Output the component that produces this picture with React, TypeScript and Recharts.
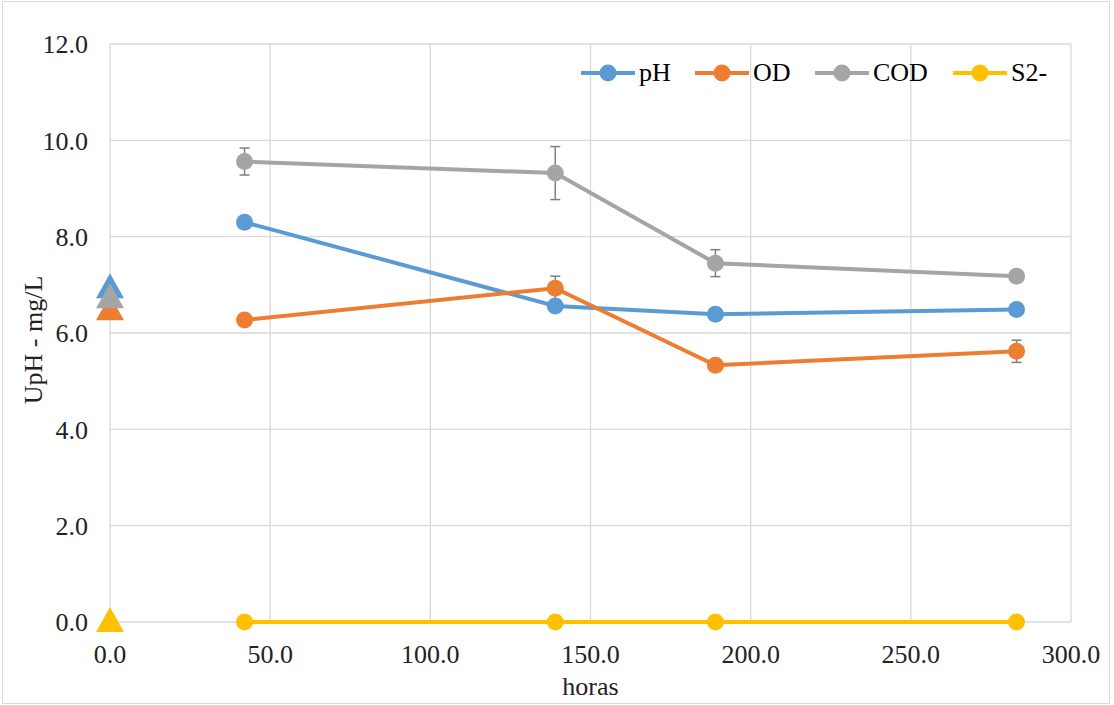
import {
  CartesianGrid,
  ComposedChart,
  ErrorBar,
  Line,
  Scatter,
  XAxis,
  YAxis,
} from "recharts"

const hours = [42, 139, 189, 283]
const pH = [8.3, 6.56, 6.39, 6.49]
const od = [6.27, 6.93, 5.33, 5.62]
const cod = [9.56, 9.32, 7.45, 7.18]
const s2 = [0, 0, 0, 0]
const odErr = [0.1, 0.25, 0, 0.23]
const codErr = [0.28, 0.55, 0.28, 0]

// initial values (t = 0) drawn as triangles
const startPH = 6.93
const startOD = 6.47
const startCOD = 6.72
const startS2 = 0

const xTicks = [0, 50, 100, 150, 200, 250, 300]
const yTicks = [0, 2, 4, 6, 8, 10, 12]

const data = hours.map((h, i) => ({
  h,
  pH: pH[i],
  OD: od[i],
  COD: cod[i],
  S2: s2[i],
  odErr: odErr[i],
  codErr: codErr[i],
}))

const FONT = "Liberation Serif, Times New Roman, serif"
const BLUE = "#5B9BD5"
const ORANGE = "#ED7D31"
const GRAY = "#A5A5A5"
const YELLOW = "#FFC000"

const legendItems = [
  { name: "pH", color: BLUE, left: 581 },
  { name: "OD", color: ORANGE, left: 695 },
  { name: "COD", color: GRAY, left: 815 },
  { name: "S2-", color: YELLOW, left: 953 },
]

function Triangle(props: any) {
  const { cx, cy, fill } = props
  const w = 28
  const h = 25
  const pts = `${cx},${cy - h * 0.6} ${cx - w / 2},${cy + h * 0.4} ${cx + w / 2},${cy + h * 0.4}`
  return <polygon points={pts} fill={fill} />
}

function LegendBox() {
  return (
    <>
      {legendItems.map((it) => (
        <div
          key={it.name}
          style={{
            position: "absolute",
            left: it.left,
            top: 58,
            height: 30,
            display: "flex",
            alignItems: "center",
            gap: 4,
            fontFamily: FONT,
            fontSize: 26,
            color: "#000",
          }}
        >
          <svg width={54} height={20}>
            <line x1={0} y1={10} x2={54} y2={10} stroke={it.color} strokeWidth={4} />
            <circle cx={27} cy={10} r={8.5} fill={it.color} />
          </svg>
          <span>{it.name}</span>
        </div>
      ))}
    </>
  )
}

const tickStyle = { fill: "#222", fontSize: 26, fontFamily: FONT, style: { fontFamily: FONT } }

export default function App() {
  const dot = (c: string) => ({ r: 8.5, fill: c, stroke: c, strokeWidth: 0 })
  return (
    <div style={{ position: "absolute", left: 0, top: 0, width: 1114, height: 705, background: "#fff", fontFamily: FONT }}>
      <div style={{ position: "absolute", left: 2, top: 1, width: 1108, height: 703, border: "1px solid #d9d9d9", boxSizing: "border-box" }} />
      <ComposedChart
        width={1114}
        height={705}
        data={data}
        margin={{ top: 44, right: 43, left: 0, bottom: 0 }}
        style={{ fontFamily: FONT }}
      >
        <CartesianGrid stroke="#d9d9d9" strokeWidth={1.3} />
        <XAxis
          dataKey="h"
          type="number"
          domain={[0, 300]}
          ticks={xTicks}
          tickFormatter={(v) => v.toFixed(1)}
          tickLine={false}
          axisLine={false}
          tickSize={0}
          tickMargin={23}
          height={83}
          tick={tickStyle}
          label={{
            content: (p: any) => {
              const vb = p.viewBox
              return (
                <text x={vb.x + vb.width / 2} y={695} textAnchor="middle" fontSize={26} style={{ fontFamily: FONT }} fill="#222">
                  horas
                </text>
              )
            },
          }}
        />
        <YAxis
          type="number"
          domain={[0, 12]}
          ticks={yTicks}
          tickFormatter={(v) => v.toFixed(1)}
          tickLine={false}
          axisLine={false}
          tickSize={0}
          tickMargin={22}
          width={110}
          tick={tickStyle}
          label={{
            content: () => (
              <text
                x={33}
                y={340}
                transform="rotate(-90 33 340)"
                textAnchor="middle"
                dominantBaseline="central"
                fontSize={26}
                style={{ fontFamily: FONT }}
                fill="#222"
              >
                UpH - mg/L
              </text>
            ),
          }}
        />
        <Line dataKey="pH" stroke={BLUE} strokeWidth={4} dot={dot(BLUE)} activeDot={false} isAnimationActive={false} />
        <Line dataKey="OD" stroke={ORANGE} strokeWidth={4} dot={dot(ORANGE)} activeDot={false} isAnimationActive={false}>
          <ErrorBar dataKey="odErr" width={5} stroke="#7f7f7f" strokeWidth={1.5} direction="y" />
        </Line>
        <Line dataKey="COD" stroke={GRAY} strokeWidth={4} dot={dot(GRAY)} activeDot={false} isAnimationActive={false}>
          <ErrorBar dataKey="codErr" width={5} stroke="#7f7f7f" strokeWidth={1.5} direction="y" />
        </Line>
        <Line dataKey="S2" stroke={YELLOW} strokeWidth={4} dot={dot(YELLOW)} activeDot={false} isAnimationActive={false} />
        <Scatter data={[{ h: 0, v: startPH }]} dataKey="v" fill={BLUE} shape={<Triangle />} isAnimationActive={false} />
        <Scatter data={[{ h: 0, v: startOD }]} dataKey="v" fill={ORANGE} shape={<Triangle />} isAnimationActive={false} />
        <Scatter data={[{ h: 0, v: startCOD }]} dataKey="v" fill={GRAY} shape={<Triangle />} isAnimationActive={false} />
        <Scatter data={[{ h: 0, v: startS2 }]} dataKey="v" fill={YELLOW} shape={<Triangle />} isAnimationActive={false} />
      </ComposedChart>
      <LegendBox />
    </div>
  )
}
